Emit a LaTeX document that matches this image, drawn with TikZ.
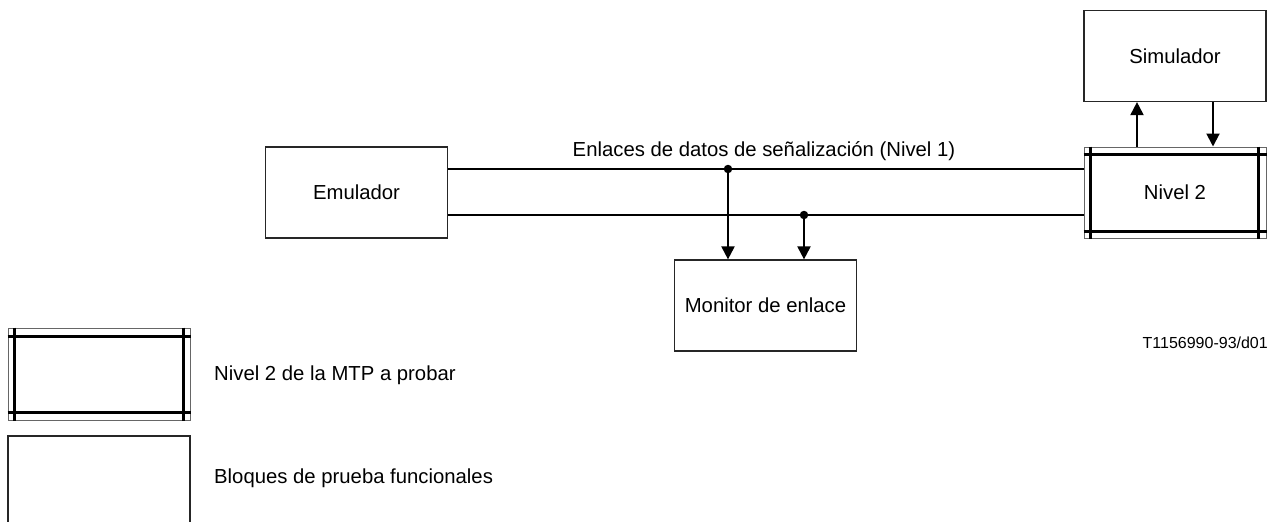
\documentclass[tikz,border=0pt]{standalone}
\usepackage{fontspec}
\setmainfont{Liberation Sans}
\usetikzlibrary{arrows.meta,calc}
\begin{document}
\begin{tikzpicture}[x=1pt,y=-1pt,
  box/.style={draw=black!85,line width=1.2pt,minimum width=182pt,minimum height=91pt,inner sep=0pt,font=\fontsize{20.3}{24}\selectfont},
  inner/.style={line width=2.2pt,black},
  conn/.style={line width=2pt,black},
  arr/.style={conn,-{Triangle[length=13pt,width=13pt]}},
  dot/.style={circle,fill=black,inner sep=0pt,minimum size=8.5pt},
  lbl/.style={inner sep=0pt,font=\fontsize{20.3}{24}\selectfont},
  small/.style={inner sep=0pt,font=\fontsize{16}{19}\selectfont}]
\useasboundingbox[fill=white] (0,0) rectangle (1278,522);

\node[box] (emu) at (356.5,192.5) {Emulador};
\node[box] (sim) at (1175,56) {Simulador};
\node[box,draw=black!60,line width=1pt] (n2) at (1175,192.5) {Nivel 2};
\node[box] (mon) at (765.5,305.5) {Monitor de enlace};

% inner frame lines of Nivel 2
\draw[inner] ($(n2.north west)+(0,8)$) -- ($(n2.north east)+(0,8)$);
\draw[inner] ($(n2.south west)+(0,-7)$) -- ($(n2.south east)+(0,-7)$);
\draw[inner] ($(n2.north west)+(7,0)$) -- ($(n2.south west)+(7,0)$);
\draw[inner] ($(n2.north east)+(-8,0)$) -- ($(n2.south east)+(-8,0)$);

% signalling links
\coordinate (l1) at (0,169);
\coordinate (l2) at (0,215);
\draw[conn] (emu.east |- l1) -- (n2.west |- l1);
\draw[conn] (emu.east |- l2) -- (n2.west |- l2);
\node[dot] (d1) at (728,169) {};
\node[dot] (d2) at (804,215) {};
\draw[arr] (d1.center) -- (d1 |- mon.north);
\draw[arr] (d2.center) -- (d2 |- mon.north);

\node[lbl,anchor=base] (enl) at (764,156) {Enlaces de datos de señalización (Nivel 1)};

% Nivel 2 <-> Simulador
\coordinate (up) at (1137,0);
\coordinate (dn) at (1213,0);
\draw[arr] (up |- n2.north) -- (up |- sim.south);
\draw[arr] (dn |- sim.south) -- (dn |- n2.north);

\node[small,anchor=base east] (ref) at (1268,348) {T1156990-93/d01};

% legend
\node[draw=black!60,line width=1pt,minimum width=182pt,minimum height=92pt,inner sep=0pt] (lg1) at (99,374) {};
\draw[inner] ($(lg1.north west)+(0,9)$) -- ($(lg1.north east)+(0,9)$);
\draw[inner] ($(lg1.south west)+(0,-8)$) -- ($(lg1.south east)+(0,-8)$);
\draw[inner] ($(lg1.north west)+(7,0)$) -- ($(lg1.south west)+(7,0)$);
\draw[inner] ($(lg1.north east)+(-7,0)$) -- ($(lg1.south east)+(-7,0)$);
\node[lbl,anchor=base west] (t1) at (214,380) {Nivel 2 de la MTP a probar};

\coordinate (lg2a) at (8,530);
\coordinate (lg2b) at (190,530);
\draw[draw=black!85,line width=1.2pt] (lg2a) -- (8,436) -- (190,436) -- (lg2b);
\node[lbl,anchor=base west] (t2) at (214,483) {Bloques de prueba funcionales};
\end{tikzpicture}
\end{document}
